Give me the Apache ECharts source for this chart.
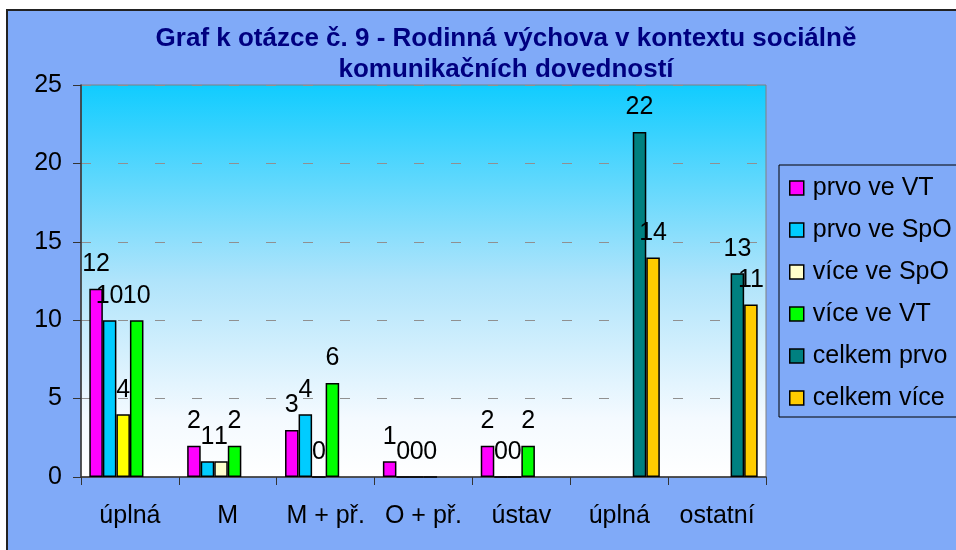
<!DOCTYPE html>
<html>
<head>
<meta charset="utf-8">
<script src="https://cdn.jsdelivr.net/npm/echarts@6/dist/echarts.min.js"></script>
<style>
html, body { margin: 0; padding: 0; background: #fff; }
#main { width: 956px; height: 550px; }
</style>
</head>
<body>
<div id="main"></div>
<script>
var categories = ['úplná', 'M', 'M + př.', 'O + př.', 'ústav', 'úplná', 'ostatní'];
var seriesNames = ['prvo ve VT', 'prvo ve SpO', 'více ve SpO', 'více ve VT', 'celkem prvo', 'celkem více'];
var prvoVT = [12, 2, 3, 1, 2, null, null];
var prvoSpO = [10, 1, 4, 0, 0, null, null];
var viceSpO = [4, 1, 0, 0, 0, null, null];
var viceVT = [10, 2, 6, 0, 2, null, null];
var celkemPrvo = [null, null, null, null, null, 22, 13];
var celkemVice = [null, null, null, null, null, 14, 11];
var yTicks = [0, 5, 10, 15, 20, 25];

var colors = ['#ff00ff', '#00ccff', '#ffffcc', '#00ff00', '#008080', '#ffcc00'];
var font = 'Liberation Sans, Arial, sans-serif';

var myChart = echarts.init(document.getElementById('main'));

function bar(i, values) {
    return {
        name: seriesNames[i],
        type: 'bar',
        barGap: 0,
        barCategoryGap: '17%',
        data: values,
        itemStyle: {color: colors[i], borderColor: '#000', borderWidth: 1.5},
        label: {
            show: true,
            position: 'top',
            distance: 12,
            color: '#000',
            fontFamily: font,
            fontSize: 25
        }
    };
}

// first "více ve SpO" bar is bright yellow in the original
var viceSpOData = viceSpO.map(function (v, i) {
    return i === 0 ? {value: v, itemStyle: {color: '#ffff00'}} : v;
});

var option = {
    backgroundColor: '#ffffff',
    animation: false,
    graphic: [{
        type: 'rect',
        z: -10,
        shape: {x: 7, y: 10, width: 960, height: 560},
        style: {fill: '#80aaf8', stroke: '#222', lineWidth: 2}
    }],
    title: {
        text: 'Graf k otázce č. 9 - Rodinná výchova v kontextu sociálně\nkomunikačních dovedností',
        left: 501,
        textAlign: 'center',
        top: 18,
        textStyle: {
            color: '#000080',
            fontFamily: font,
            fontWeight: 'bold',
            fontSize: 26,
            lineHeight: 31
        }
    },
    legend: {
        orient: 'vertical',
        left: 779,
        top: 165,
        padding: [9, 10, 5, 10],
        itemWidth: 14,
        itemHeight: 14,
        itemGap: 14,
        borderColor: '#000',
        borderWidth: 1,
        icon: 'rect',
        itemStyle: {borderColor: '#000', borderWidth: 1.5},
        textStyle: {color: '#000', fontFamily: font, fontSize: 25, lineHeight: 28, padding: [0, 0, 0, 4]},
        data: seriesNames
    },
    grid: {
        left: 81,
        right: 190,
        top: 85,
        bottom: 73,
        show: true,
        borderColor: '#808080',
        borderWidth: 1,
        backgroundColor: new echarts.graphic.LinearGradient(0, 0, 0, 1, [
            {offset: 0, color: '#10ccff'},
            {offset: 0.5, color: '#b0e4fb'},
            {offset: 0.85, color: '#f4faff'},
            {offset: 1, color: '#ffffff'}
        ])
    },
    xAxis: {
        type: 'category',
        data: categories,
        axisLine: {lineStyle: {color: '#333', width: 1.5}},
        axisTick: {show: true, length: 8, lineStyle: {color: '#333'}},
        axisLabel: {interval: 0, color: '#000', fontFamily: font, fontSize: 25, margin: 27}
    },
    yAxis: {
        type: 'value',
        min: yTicks[0],
        max: yTicks[yTicks.length - 1],
        interval: yTicks[1] - yTicks[0],
        axisLine: {show: true, lineStyle: {color: '#333', width: 1.5}},
        axisTick: {show: true, length: 8, lineStyle: {color: '#333'}},
        axisLabel: {color: '#000', fontFamily: font, fontSize: 25, margin: 19},
        splitLine: {lineStyle: {color: '#909090', type: [10, 27]}}
    },
    series: [
        bar(0, prvoVT),
        bar(1, prvoSpO),
        bar(2, viceSpOData),
        bar(3, viceVT),
        bar(4, celkemPrvo),
        bar(5, celkemVice)
    ]
};
myChart.setOption(option);
</script>
</body>
</html>
